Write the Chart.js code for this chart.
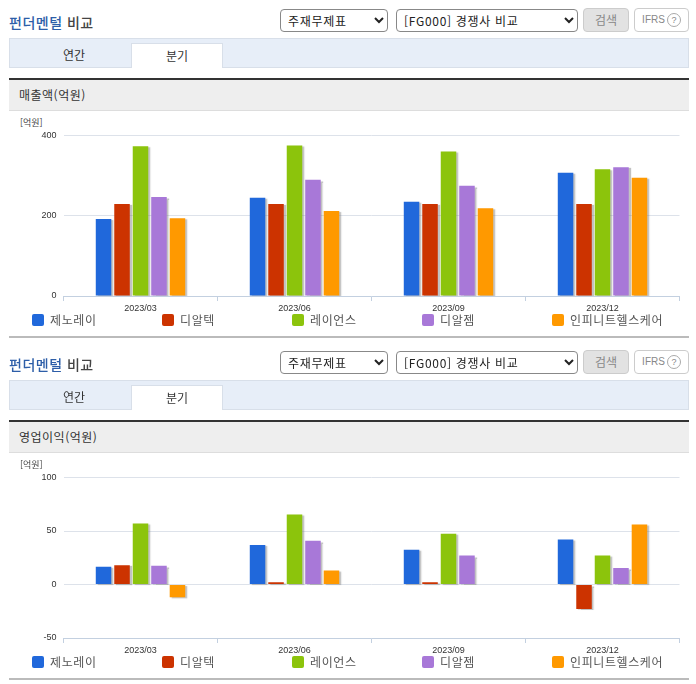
<!DOCTYPE html>
<html lang="ko">
<head>
<meta charset="utf-8">
<title>펀더멘털 비교</title>
<script src="https://cdn.jsdelivr.net/npm/chart.js@4"></script>
<style>
html, body { margin: 0; padding: 0; background: #fff; overflow: hidden; }
body { width: 696px; height: 684px; position: relative; font-family: "Noto Sans CJK KR", sans-serif; color: #333; }
.section { position: absolute; left: 0; width: 696px; height: 342px; }
.section > * { position: absolute; box-sizing: border-box; }
.title { left: 9px; top: 13px; font-size: 14px; line-height: 19px; font-weight: 500; color: #444; letter-spacing: 0.5px; }
.title b { font-weight: 500; color: #2d5ea8; }
select { font-family: "Noto Sans CJK KR", sans-serif; font-size: 12px; height: 23px; top: 9px; background: #fff; border: 1px solid #888; border-radius: 4px; color: #222; padding-left: 3px; letter-spacing: 0.7px; }
.btn { top: 8px; height: 24px; border-radius: 4px; font-size: 12px; line-height: 22px; text-align: center; color: #888; border: 1px solid #ccc; }
.search { left: 583px; width: 46px; background: #e2e2e2; }
.ifrs { left: 634px; width: 55px; background: #fff; font-family: "Liberation Sans", sans-serif; font-size: 10px; white-space: nowrap; }
.ifrs i { display: inline-block; width: 12px; height: 12px; border: 1px solid #aaa; border-radius: 50%; font-style: normal; line-height: 12px; font-size: 9px; margin-left: 2px; box-sizing: content-box; }
.tabs { left: 9px; top: 38px; width: 680px; height: 30px; background: #e7eef8; border: 1px solid #d8dfe9; }
.tab { top: 43px; height: 25px; font-size: 12px; line-height: 23px; text-align: center; }
.tab.off { left: 9px; width: 130px; }
.tab.on { left: 131px; width: 92px; background: #fff; border: 1px solid #d8dfe9; border-bottom: none; }
.head { left: 9px; top: 78px; width: 680px; height: 33px; background: #eee; border-top: 2px solid #333; border-bottom: 1px solid #ddd; font-size: 12px; line-height: 30px; padding-left: 10px; letter-spacing: 0.5px; }
.unit { left: 20px; top: 117px; font-size: 9px; line-height: 12px; color: #444; }
canvas { left: 0; top: 110px; }
.legend { left: 32px; top: 312px; display: flex; }
.legend span { display: flex; align-items: center; width: 130px; font-size: 12px; line-height: 16px; color: #555; letter-spacing: 0.6px; white-space: nowrap; }
.legend em { width: 12px; height: 12px; border-radius: 2px; margin-right: 6px; }
.rule { left: 9px; top: 336px; width: 680px; height: 2px; background: #bbb; }
</style>
</head>
<body>
<div class="section" id="sales" style="top:0"></div>
<div class="section" id="profit" style="top:342px"></div>
<script>
const quarters = ["2023/03", "2023/06", "2023/09", "2023/12"];
const companies = ["제노레이", "디알텍", "레이언스", "디알젬", "인피니트헬스케어"];
const colors = ["#2068db", "#cc3300", "#8cc40c", "#a878d8", "#ff9900"];

// 매출액(억원)
const salesGenoray = [192, 245, 235, 307];
const salesDrtech = [229, 229, 229, 229];
const salesRayence = [373, 375, 360, 316];
const salesDrgem = [247, 290, 275, 321];
const salesInfinitt = [194, 212, 219, 295];
const salesTicks = [0, 200, 400];

// 영업이익(억원)
const profitGenoray = [16.5, 37, 32.5, 42];
const profitDrtech = [18, 2, 2, -23];
const profitRayence = [57, 65.5, 47.5, 27];
const profitDrgem = [17.5, 41, 27, 15.5];
const profitInfinitt = [-12, 13, null, 56];
const profitTicks = [-50, 0, 50, 100];

// grey drop shadow behind every bar
const barShadow = {
  id: "barShadow",
  beforeDatasetsDraw(chart) {
    const ctx = chart.ctx;
    ctx.save();
    ctx.shadowColor = "rgba(120,120,120,0.45)";
    ctx.shadowOffsetX = 2;
    ctx.shadowOffsetY = 1;
    ctx.shadowBlur = 1;
  },
  afterDatasetsDraw(chart) {
    chart.ctx.restore();
  }
};

function buildSection(id, heading, seriesList, ticks) {
  const root = document.getElementById(id);
  root.innerHTML = `
    <div class="title"><b>펀더멘털</b> 비교</div>
    <select style="left:280px;width:108px"><option>주재무제표</option></select>
    <select style="left:396px;width:182px"><option>[FG000] 경쟁사 비교</option></select>
    <div class="btn search">검색</div>
    <div class="btn ifrs">IFRS<i>?</i></div>
    <div class="tabs"></div>
    <div class="tab off">연간</div>
    <div class="tab on">분기</div>
    <div class="head">${heading}</div>
    <div class="unit">[억원]</div>
    <canvas width="696" height="210" style="position:absolute;width:696px;height:210px"></canvas>
    <div class="legend">${companies.map((name, i) =>
      `<span><em style="background:${colors[i]}"></em>${name}</span>`).join("")}</div>
    <div class="rule"></div>`;

  new Chart(root.querySelector("canvas"), {
    type: "bar",
    data: {
      labels: quarters,
      datasets: seriesList.map((values, i) => ({
        label: companies[i],
        data: values,
        backgroundColor: colors[i],
        categoryPercentage: 0.6,
        barPercentage: 0.84
      }))
    },
    options: {
      responsive: false,
      animation: false,
      layout: { padding: { top: 25.5, right: 16.5, left: 0, bottom: 0 } },
      plugins: { legend: { display: false }, tooltip: { enabled: false } },
      scales: {
        x: {
          afterFit: (scale) => { scale.height = 24; },
          border: { color: "#c3d0e0" },
          grid: { offset: true, drawOnChartArea: false, color: "#c3d0e0", tickLength: 5 },
          ticks: { color: "#333", font: { family: "Liberation Sans", size: 9 }, padding: 2, maxRotation: 0 }
        },
        y: {
          min: ticks[0],
          max: ticks[ticks.length - 1],
          afterFit: (scale) => { scale.width = 63.5; },
          afterBuildTicks: (scale) => { scale.ticks = ticks.map((value) => ({ value })); },
          border: { display: false },
          grid: { color: "#dde2ea", drawTicks: false },
          ticks: { color: "#333", font: { family: "Liberation Sans", size: 9 }, padding: 7, z: 1 }
        }
      }
    },
    plugins: [barShadow]
  });
}

buildSection("sales", "매출액(억원)",
  [salesGenoray, salesDrtech, salesRayence, salesDrgem, salesInfinitt], salesTicks);
buildSection("profit", "영업이익(억원)",
  [profitGenoray, profitDrtech, profitRayence, profitDrgem, profitInfinitt], profitTicks);
</script>
</body>
</html>
